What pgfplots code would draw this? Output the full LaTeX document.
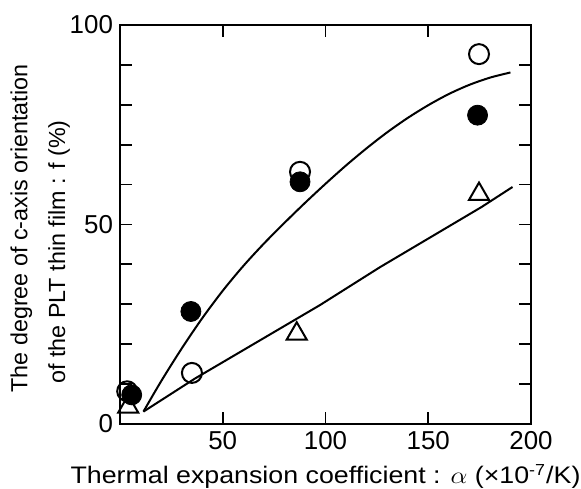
\documentclass[border=0pt]{standalone}
\usepackage{pgfplots}
\pgfplotsset{compat=1.18}
\usepackage{fontspec}
\setmainfont{Liberation Sans}
\begin{document}
\begin{tikzpicture}
\begin{axis}[
  scale only axis,
  width=205.5bp, height=199.5bp,
  xmin=0, xmax=200, ymin=0, ymax=100,
  xtick={50,100,150,200},
  ytick={0,10,...,100},
  yticklabels={0,,,,,50,,,,,100},
  tick align=inside,
  major tick length=6bp,
  tick style={line width=0.9bp, black},
  axis line style={line width=1bp},
  /pgf/number format/assume math mode=true,
  ticklabel style={font=\fontsize{13}{15}\selectfont},
  xlabel={\scalebox{1.12}[1]{Thermal expansion coefficient : $\alpha$ (\texttimes10\textsuperscript{-7}/K)}},
  ylabel={The degree of c-axis orientation\\of the PLT thin film : f (\%)\rule{23.5bp}{0pt}},
  ylabel style={align=center, font=\fontsize{11.7}{19}\selectfont, at={(rel axis cs:0,0.5)}, anchor=south, yshift=21.5bp, xshift=-2bp},
  xlabel style={font=\fontsize{12}{14}\selectfont, yshift=-0.5bp},
  clip=false,
]
\coordinate (sw) at (rel axis cs:0,0);
\coordinate (ne) at (rel axis cs:1,1);
% upper curve
\addplot[smooth, line width=1bp] coordinates {
 (11.4,3.1) (20,10.7) (30,18.9) (40,26.5) (50,33.4) (60,39.6) (70,45.2) (80,50.4) (90,55.4) (100,60.2) (110,64.8) (120,69.1) (130,73.1) (140,76.7) (150,79.9) (160,82.7) (170,85.0) (180,86.8) (190,88.1)};
% lower line
\addplot[line width=1bp] coordinates {(11.4,3.1) (36.5,11.4) (97.3,29.8) (126.5,39.3) (176,54.4) (191,59.4)};
% open circles
\addplot[only marks, mark=o, mark size=5bp, mark options={line width=1bp, fill=white}] coordinates {
 (3.5,8.2) (35,12.8) (87.6,63.2) (174.7,92.7)};
% filled circles
\addplot[only marks, mark=*, mark size=5bp, mark options={fill=black}] coordinates {
 (5.7,7.3) (34.5,28.2) (87.6,60.7) (174,77.4)};
% triangles
\addplot[only marks, mark=triangle, mark size=5.8bp, mark options={line width=1bp, fill=white}] coordinates {
 (4,4.3) (86,22.6) (174.7,57.6)};
\end{axis}
\pgfresetboundingbox
\path[use as bounding box] ([xshift=-60bp, yshift=-32.5bp]sw) rectangle ([xshift=25bp, yshift=12.5bp]ne);
\end{tikzpicture}
\end{document}
